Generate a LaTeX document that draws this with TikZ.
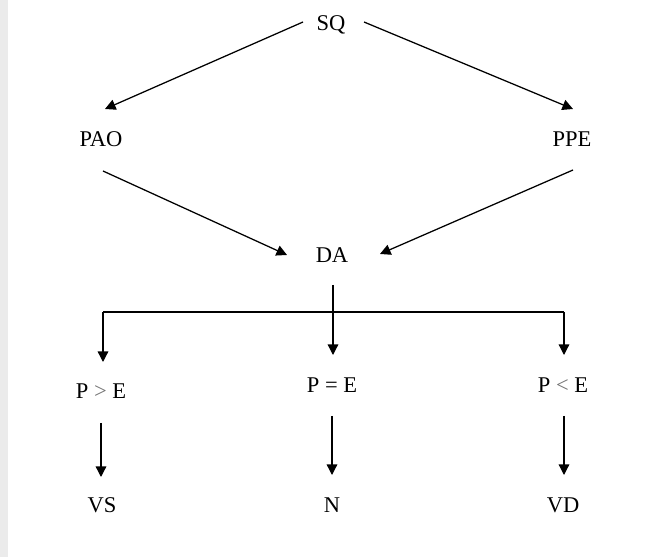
\documentclass[tikz,border=0pt]{standalone}
\usepackage{fontspec}
\setmainfont{Liberation Serif}
\usetikzlibrary{arrows.meta}

\tikzset{
    lbl/.style={anchor=base, inner sep=0pt, font=\fontsize{16}{19}\selectfont},
    arr/.style={-{Triangle[length=7.5pt,width=7.5pt]}, line width=0.9pt},
}

\begin{document}
\begin{tikzpicture}[x=0.025cm, y=-0.025cm]
    \useasboundingbox (0,0) rectangle (652,557);
    \fill[black!8] (0,0) rectangle (8,557);

    \node[lbl] (SQ) at (331, 31) {SQ};
    \node[lbl] (PAO) at (101, 147) {PAO};
    \node[lbl] (PPE) at (572, 147) {PPE};
    \node[lbl] (DA) at (332, 263) {DA};
    \node[lbl] (PgtE) at (101, 399) {P \textcolor{black!55}{>} E};
    \node[lbl] (PeqE) at (332, 393) {P = E};
    \node[lbl] (PltE) at (563, 393) {P \textcolor{black!55}{<} E};
    \node[lbl] (VS) at (102, 513) {VS};
    \node[lbl] (N) at (332, 513) {N};
    \node[lbl] (VD) at (563, 513) {VD};

    \coordinate (SQl) at (303, 22);
    \coordinate (SQr) at (364, 22);
    \coordinate (PAOt) at (105, 109);
    \coordinate (PPEt) at (573, 109);
    \coordinate (PAOb) at (103, 171);
    \coordinate (PPEb) at (573, 170);
    \coordinate (DAl) at (287, 255);
    \coordinate (DAr) at (380, 254);
    \coordinate (DAb) at (333, 285);
    \coordinate (Bl) at (103, 312);
    \coordinate (Br) at (564, 312);
    \coordinate (PgtEt) at (103, 362);
    \coordinate (PeqEt) at (333, 355);
    \coordinate (PltEt) at (564, 355);
    \coordinate (PgtEb) at (101, 423);
    \coordinate (PeqEb) at (332, 416);
    \coordinate (PltEb) at (564, 416);
    \coordinate (VSt) at (101, 477);
    \coordinate (Nt) at (332, 475);
    \coordinate (VDt) at (564, 475);

    \draw[arr] (SQl) -- (PAOt);
    \draw[arr] (SQr) -- (PPEt);
    \draw[arr] (PAOb) -- (DAl);
    \draw[arr] (PPEb) -- (DAr);

    \draw[arr] (DAb) -- (PeqEt);
    \draw[line width=0.9pt] (Bl) -- (Br);
    \draw[arr] (Bl) -- (PgtEt);
    \draw[arr] (Br) -- (PltEt);

    \draw[arr] (PgtEb) -- (VSt);
    \draw[arr] (PeqEb) -- (Nt);
    \draw[arr] (PltEb) -- (VDt);
\end{tikzpicture}
\end{document}
